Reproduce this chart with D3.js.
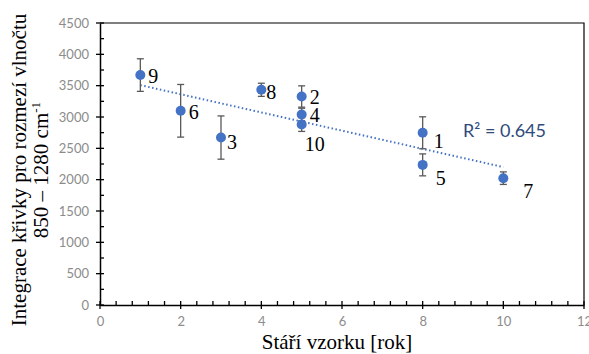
<!DOCTYPE html>
<html>
<head>
<meta charset="utf-8">
<script src="https://cdn.jsdelivr.net/npm/d3@7"></script>
<style>
  body { margin: 0; background: #fff; }
  svg { display: block; }
</style>
</head>
<body>
<svg id="chart"></svg>
<script>
// sample numbers, age in years, integral and its error
const sampleIds = ["1", "2", "3", "4", "5", "6", "7", "8", "9", "10"]
const ages = [8, 5, 3, 5, 8, 2, 10, 4, 1, 5]
const integrals = [2748, 3327, 2672, 3040, 2236, 3099, 2024, 3434, 3669, 2880]
const errors = [255, 170, 345, 100, 175, 420, 100, 105, 260, 110]
const xTicks = [0, 2, 4, 6, 8, 10, 12]
const yTicks = [0, 500, 1000, 1500, 2000, 2500, 3000, 3500, 4000, 4500]
const r2Label = "R² = 0.645"

const data = sampleIds.map((id, i) => ({ id: id, x: ages[i], y: integrals[i], err: errors[i] }))

const W = 589, H = 354
const margin = { top: 23, right: 5, bottom: 49, left: 100 }

const svg = d3.select("#chart").attr("width", W).attr("height", H)

const x = d3.scaleLinear().domain([0, 12]).range([margin.left, W - margin.right])
const y = d3.scaleLinear().domain([0, 4500]).range([H - margin.bottom, margin.top])

const tickFont = "Lato, 'Open Sans', sans-serif"
const serif = "'Liberation Serif', 'Times New Roman', serif"

// frame (top + right)
svg.append("path")
  .attr("d", `M${x(0)},${y(4500)}H${x(12)}V${y(0)}`)
  .attr("fill", "none").attr("stroke", "#000").attr("stroke-width", 1.2)

// x axis - minor ticks inside, major ticks crossing
const xMinor = d3.range(0, 12.001, 0.4).filter(v => Math.abs(v / 2 - Math.round(v / 2)) > 0.01)
const gx = svg.append("g").attr("transform", `translate(0,${y(0)})`)
gx.call(d3.axisBottom(x).tickValues(xTicks).tickSize(0).tickPadding(12).tickFormat(d3.format("d")))
gx.select(".domain").attr("stroke", "#000").attr("stroke-width", 1.5)
gx.selectAll(".tick text").attr("font-family", tickFont).attr("font-size", 13).attr("fill", "#8c8c8c")
gx.selectAll(".major").data(xTicks).enter().append("line")
  .attr("x1", d => x(d)).attr("x2", d => x(d)).attr("y1", -4).attr("y2", 4)
  .attr("stroke", "#000").attr("stroke-width", 1.3)
gx.selectAll(".minor").data(xMinor).enter().append("line")
  .attr("x1", d => x(d)).attr("x2", d => x(d)).attr("y1", -4).attr("y2", 0)
  .attr("stroke", "#000").attr("stroke-width", 1.3)

// y axis
const yMinor = d3.range(250, 4500, 500)
const gy = svg.append("g").attr("transform", `translate(${x(0)},0)`)
gy.call(d3.axisLeft(y).tickValues(yTicks).tickSize(0).tickPadding(11).tickFormat(d3.format("d")))
gy.select(".domain").attr("stroke", "#000").attr("stroke-width", 1.5)
gy.selectAll(".tick text").attr("font-family", tickFont).attr("font-size", 13).attr("fill", "#8c8c8c")
gy.selectAll(".major").data(yTicks).enter().append("line")
  .attr("y1", d => y(d)).attr("y2", d => y(d)).attr("x1", -4).attr("x2", 4)
  .attr("stroke", "#000").attr("stroke-width", 1.3)
gy.selectAll(".minor").data(yMinor).enter().append("line")
  .attr("y1", d => y(d)).attr("y2", d => y(d)).attr("x1", 0).attr("x2", 4)
  .attr("stroke", "#000").attr("stroke-width", 1.3)

// linear trend line (least squares over the points)
const mx = d3.mean(ages), my = d3.mean(integrals)
const slope = d3.sum(data, d => (d.x - mx) * (d.y - my)) / d3.sum(data, d => (d.x - mx) ** 2)
const icpt = my - slope * mx
const [x0, x1] = d3.extent(ages)
svg.append("line")
  .attr("x1", x(x0)).attr("y1", y(icpt + slope * x0))
  .attr("x2", x(x1)).attr("y2", y(icpt + slope * x1))
  .attr("stroke", "#4472C4").attr("stroke-width", 2).attr("stroke-dasharray", "1.5,2.5")

// error bars
const eb = svg.append("g").attr("stroke", "#595959").attr("stroke-width", 1.3)
data.forEach(d => {
  eb.append("line").attr("x1", x(d.x)).attr("x2", x(d.x)).attr("y1", y(d.y - d.err)).attr("y2", y(d.y + d.err))
  eb.append("line").attr("x1", x(d.x) - 3.5).attr("x2", x(d.x) + 3.5).attr("y1", y(d.y - d.err)).attr("y2", y(d.y - d.err))
  eb.append("line").attr("x1", x(d.x) - 3.5).attr("x2", x(d.x) + 3.5).attr("y1", y(d.y + d.err)).attr("y2", y(d.y + d.err))
})

// points
svg.selectAll(".pt").data(data).enter().append("circle")
  .attr("cx", d => x(d.x)).attr("cy", d => y(d.y)).attr("r", 5)
  .attr("fill", "#4472C4")

// sample number labels, nudged like in the original
const nudge = {
  "1": [11, 15], "2": [8, 7], "3": [6, 11], "4": [8, 8], "5": [13, 20],
  "6": [8, 8], "7": [20, 20], "8": [5, 9], "9": [8, 8], "10": [3, 26]
}
svg.selectAll(".lbl").data(data).enter().append("text")
  .attr("x", d => x(d.x) + nudge[d.id][0])
  .attr("y", d => y(d.y) + nudge[d.id][1])
  .attr("font-family", serif).attr("font-size", 20).attr("fill", "#000")
  .text(d => d.id)

// R^2 annotation
svg.append("text").attr("x", 463).attr("y", 137)
  .attr("font-family", tickFont).attr("font-size", 18).attr("fill", "#2F4B7C")
  .text(r2Label)

// axis titles
svg.append("text").attr("x", 337).attr("y", 349).attr("text-anchor", "middle")
  .attr("font-family", serif).attr("font-size", 21).text("Stáří vzorku [rok]")

const yt = svg.append("text").attr("transform", "translate(0,170) rotate(-90)")
  .attr("text-anchor", "middle").attr("font-family", serif).attr("font-size", 21)
yt.append("tspan").attr("x", 0).attr("y", 26).text("Integrace křivky pro rozmezí vlnočtu")
const l2 = yt.append("tspan").attr("x", 0).attr("y", 48)
l2.append("tspan").text("850 – 1280 cm")
l2.append("tspan").attr("dy", -8).attr("font-size", 13).text("-1")
</script>
</body>
</html>
